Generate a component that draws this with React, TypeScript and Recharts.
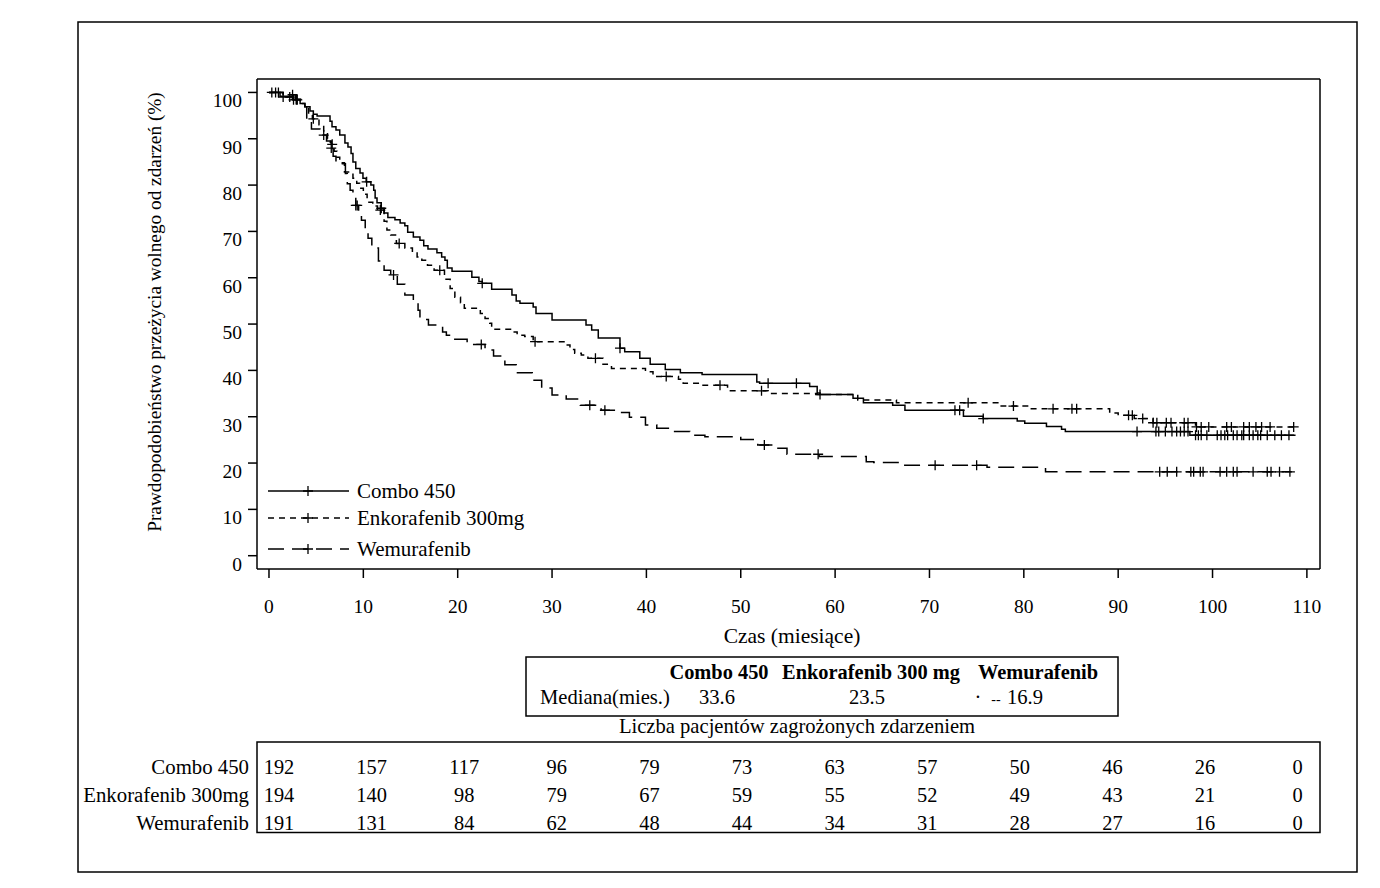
import React from 'react';
import { LineChart, Line, XAxis, YAxis, ReferenceLine } from 'recharts';

// ---- axis setup ----
const MONTH_TICKS = [0, 10, 20, 30, 40, 50, 60, 70, 80, 90, 100, 110];
const PCT_TICKS = [0, 10, 20, 30, 40, 50, 60, 70, 80, 90, 100];
const X_MIN = -1.27;
const X_MAX = 111.39;
const Y_MIN = -2.87;
const Y_MAX = 102.9;

// ---- Kaplan-Meier steps: [month, survival %] ----
const comboSteps: [number, number][] = [
  [0, 100], [1.17, 99.2], [2.54, 98.4], [3.3, 97.6], [3.8, 96.9], [4.35, 96.0], [4.7, 95.3],
  [5.1, 94.9], [6.47, 93.8], [6.68, 92.6], [7.1, 91.9], [7.5, 90.8], [8.05, 89.1], [8.37, 88.2],
  [8.7, 86.8], [8.9, 85.0], [9.2, 83.6], [9.65, 82.6], [9.96, 81.5], [10.3, 80.7], [10.8, 80.0],
  [11.1, 78.9], [11.25, 77.2], [11.45, 76.2], [11.9, 75.0], [12.2, 74.0], [12.6, 73.0],
  [13.35, 72.5], [13.9, 71.8], [14.4, 71.2], [14.7, 69.8], [15.3, 68.8], [16.0, 68.1],
  [16.4, 66.9], [16.85, 66.2], [17.8, 65.4], [18.3, 64.5], [18.65, 63.8], [18.9, 62.1],
  [19.4, 61.4], [21.5, 60.1], [22.25, 59.2], [22.6, 58.8], [23.6, 57.5], [25.75, 56.3],
  [26.2, 55.0], [26.6, 54.5], [28.0, 53.7], [28.3, 52.3], [30.0, 50.9], [33.6, 49.8],
  [34.2, 48.7], [34.9, 47.0], [37.2, 44.8], [37.7, 44.0], [39.3, 42.6], [40.4, 41.3],
  [42.0, 40.2], [43.6, 39.5], [45.9, 39.1], [51.7, 37.5], [52.0, 37.2], [57.3, 36.5],
  [58.1, 35.1], [58.4, 34.8], [61.9, 34.0], [63.0, 33.0], [66.1, 32.5], [67.4, 31.4],
  [73.6, 30.1], [75.7, 29.6], [79.3, 29.1], [80.1, 28.6], [82.4, 27.9], [84.0, 27.3],
  [84.4, 26.8], [97.6, 26.0],
];
const comboCensor = [
  0.3, 0.7, 1.0, 2.6, 3.0, 10.35, 11.9, 22.6, 37.2, 52.9, 55.9, 58.4, 72.7, 73.2, 75.7,
  92.0, 94.0, 94.3, 95.0, 95.7, 96.2, 96.6, 97.0, 97.4, 98.2, 98.5, 98.8, 99.4, 100.5,
  100.9, 101.3, 101.6, 102.2, 102.6, 103.1, 103.3, 103.9, 104.3, 104.8, 105.1, 105.8,
  106.6, 107.3, 108.1,
];
const COMBO_END = 108.8;

const enkoSteps: [number, number][] = [
  [0, 100], [1.5, 99.0], [2.5, 98.5], [3.3, 97.6], [3.8, 96.8], [4.2, 95.3], [4.6, 94.3],
  [5.3, 93.0], [5.8, 91.5], [6.2, 90.0], [6.6, 88.8], [6.9, 87.3], [7.2, 86.0], [7.5, 84.8],
  [8.0, 82.8], [8.9, 81.5], [9.3, 80.4], [9.6, 79.3], [10.0, 78.0], [10.4, 76.3], [11.0, 75.5],
  [11.5, 74.6], [12.2, 72.2], [12.5, 70.3], [12.9, 69.2], [13.5, 67.4], [14.4, 66.4],
  [15.2, 65.5], [15.7, 64.5], [16.2, 63.8], [16.8, 62.7], [17.5, 61.6], [18.6, 59.7],
  [19.2, 57.7], [19.7, 55.8], [20.3, 54.6], [20.7, 53.4], [22.4, 52.3], [22.9, 51.2],
  [23.4, 50.2], [23.6, 48.9], [25.6, 48.3], [26.3, 47.6], [27.1, 47.3], [28.0, 46.2],
  [31.4, 45.5], [31.9, 44.5], [32.4, 43.7], [33.1, 43.3], [33.8, 42.6], [35.4, 41.3],
  [36.3, 40.4], [39.9, 39.7], [40.7, 38.7], [43.4, 38.1], [43.9, 37.2], [46.0, 36.8],
  [48.6, 35.6], [52.9, 35.0], [58.1, 34.8], [62.4, 33.6], [66.5, 33.0], [77.6, 32.3],
  [80.4, 31.7], [89.1, 30.8], [90.0, 30.3], [91.7, 29.6], [93.7, 28.7], [98.2, 27.8],
];
const enkoCensor = [
  1.5, 2.2, 2.9, 4.7, 6.7, 11.8, 13.8, 18.1, 28.2, 34.6, 42.1, 47.8, 52.2, 74.1, 78.9,
  83.1, 85.1, 85.6, 91.1, 91.5, 92.6, 93.7, 94.1, 95.1, 95.6, 97.0, 97.4, 98.3, 98.8,
  99.6, 101.5, 102.0, 103.3, 103.9, 104.6, 105.2, 106.1, 108.6,
];
const ENKO_END = 108.6;

const wemuSteps: [number, number][] = [
  [0, 100], [1.5, 99.5], [2.8, 98.5], [3.3, 97.6], [3.8, 96.9], [4.0, 94.0], [4.5, 92.1],
  [5.4, 90.8], [6.1, 89.5], [6.5, 88.0], [6.8, 86.2], [7.1, 84.6], [8.1, 82.5], [8.3, 80.3],
  [8.6, 78.9], [8.9, 77.8], [9.2, 75.6], [9.5, 74.1], [9.8, 72.4], [10.2, 70.3], [10.5, 68.5],
  [10.9, 66.4], [11.6, 63.6], [12.2, 61.6], [12.9, 60.6], [13.6, 58.6], [14.4, 56.3],
  [15.3, 54.8], [15.8, 53.0], [16.0, 51.0], [16.9, 49.8], [18.4, 48.3], [18.8, 47.6],
  [19.4, 46.7], [21.0, 45.6], [22.9, 44.4], [23.8, 43.1], [25.0, 41.2], [26.2, 39.5],
  [27.9, 37.9], [28.9, 36.2], [30.0, 34.7], [31.5, 33.8], [33.0, 32.5], [35.2, 31.4],
  [36.6, 30.9], [38.2, 29.9], [39.9, 28.2], [41.1, 27.5], [42.9, 26.8], [44.6, 26.0],
  [46.2, 25.7], [50.0, 25.1], [51.8, 23.9], [53.6, 23.2], [54.9, 21.9], [58.3, 21.4],
  [63.3, 20.3], [64.1, 20.1], [67.1, 19.5], [76.1, 19.1], [82.3, 18.1],
];
const wemuCensor = [
  2.5, 2.9, 5.8, 6.6, 9.2, 9.35, 13.2, 22.5, 34.0, 35.6, 52.5, 58.2, 70.6, 75.0,
  94.4, 95.2, 96.2, 97.7, 98.0, 98.7, 99.0, 100.8, 101.5, 102.2, 102.6, 104.3, 105.8,
  106.2, 107.1, 108.2,
];
const WEMU_END = 108.4;

// ---- numbers at risk and medians ----
const RISK_LABELS = ['Combo 450', 'Enkorafenib 300mg', 'Wemurafenib'];
const comboAtRisk = [192, 157, 117, 96, 79, 73, 63, 57, 50, 46, 26, 0];
const enkoAtRisk = [194, 140, 98, 79, 67, 59, 55, 52, 49, 43, 21, 0];
const wemuAtRisk = [191, 131, 84, 62, 48, 44, 34, 31, 28, 27, 16, 0];
const MEDIAN_HEADERS = ['Combo 450', 'Enkorafenib 300 mg', 'Wemurafenib'];
const MEDIAN_VALUES = ['33.6', '23.5', '16.9'];

const FONT = '"Liberation Serif", "Times New Roman", serif';

type Pt = { t: number; s: number; c: boolean };

function stepValue(steps: [number, number][], t: number): number {
  let v = steps[0][1];
  for (const [st, sv] of steps) {
    if (st <= t) v = sv;
    else break;
  }
  return v;
}

function buildSeries(steps: [number, number][], censor: number[], end: number): Pt[] {
  const pts: Pt[] = steps.map(([t, s]) => ({ t, s, c: false }));
  censor.forEach((t) => pts.push({ t, s: stepValue(steps, t), c: true }));
  pts.push({ t: end, s: steps[steps.length - 1][1], c: false });
  return pts.sort((a, b) => a.t - b.t || (a.c === b.c ? 0 : a.c ? 1 : -1));
}

const comboData = buildSeries(comboSteps, comboCensor, COMBO_END);
const enkoData = buildSeries(enkoSteps, enkoCensor, ENKO_END);
const wemuData = buildSeries(wemuSteps, wemuCensor, WEMU_END);

const censorDot = (props: any) => {
  const { cx, cy, payload, index } = props;
  if (!payload || !payload.c || cx == null || cy == null) return <g key={`n${index}`} />;
  return (
    <path
      key={`c${index}`}
      d={`M${cx - 5},${cy}h10M${cx},${cy - 5}v10`}
      stroke="#000"
      strokeWidth={1.3}
      strokeDasharray="none"
      fill="none"
    />
  );
};

const XTick = (props: any) => {
  const { x, y, payload } = props;
  return (
    <text x={x} y={y + 35} textAnchor="middle" fontFamily={FONT} fontSize={19.5} fill="#000">
      {payload.value}
    </text>
  );
};

const YTick = (props: any) => {
  const { x, y, payload } = props;
  return (
    <text x={x - 4} y={y + 15} textAnchor="end" fontFamily={FONT} fontSize={19.5} fill="#000">
      {payload.value}
    </text>
  );
};

const LEGEND = [
  { label: 'Combo 450', dash: undefined as string | undefined, y: 491 },
  { label: 'Enkorafenib 300mg', dash: '6 5', y: 518 },
  { label: 'Wemurafenib', dash: '16 8', y: 549 },
];

const RISK_ROWS = [comboAtRisk, enkoAtRisk, wemuAtRisk];

export default function App() {
  return (
    <div style={{ position: 'absolute', left: 0, top: 0, width: 1380, height: 888, background: '#fff' }}>
      <LineChart
        width={1380}
        height={888}
        margin={{ top: 79, right: 60, bottom: 269, left: 197 }}
      >
        <XAxis
          dataKey="t"
          type="number"
          domain={[X_MIN, X_MAX]}
          ticks={MONTH_TICKS}
          allowDataOverflow
          height={50}
          tickSize={9}
          tickMargin={0}
          axisLine={{ stroke: '#000', strokeWidth: 1.5 }}
          tickLine={{ stroke: '#000', strokeWidth: 1.5 }}
          tick={<XTick />}
        />
        <YAxis
          type="number"
          domain={[Y_MIN, Y_MAX]}
          ticks={PCT_TICKS}
          allowDataOverflow
          width={60}
          tickSize={9}
          tickMargin={2}
          axisLine={{ stroke: '#000', strokeWidth: 1.5 }}
          tickLine={{ stroke: '#000', strokeWidth: 1.5 }}
          tick={<YTick />}
        />
        <ReferenceLine y={Y_MAX} stroke="#000" strokeWidth={1.5} />
        <ReferenceLine x={X_MAX} stroke="#000" strokeWidth={1.5} />
        <Line
          data={comboData}
          dataKey="s"
          type="stepAfter"
          stroke="#000"
          strokeWidth={1.5}
          dot={censorDot}
          activeDot={false}
          isAnimationActive={false}
        />
        <Line
          data={enkoData}
          dataKey="s"
          type="stepAfter"
          stroke="#000"
          strokeWidth={1.5}
          strokeDasharray="6 5"
          dot={censorDot}
          activeDot={false}
          isAnimationActive={false}
        />
        <Line
          data={wemuData}
          dataKey="s"
          type="stepAfter"
          stroke="#000"
          strokeWidth={1.5}
          strokeDasharray="16 8"
          dot={censorDot}
          activeDot={false}
          isAnimationActive={false}
        />
      </LineChart>

      <svg
        width={1380}
        height={888}
        style={{ position: 'absolute', left: 0, top: 0, pointerEvents: 'none' }}
        fontFamily={FONT}
      >
        <rect x={78} y={22} width={1279} height={850} fill="none" stroke="#000" strokeWidth={1.5} />

        <text
          x={0}
          y={0}
          transform="translate(161,312) rotate(-90)"
          textAnchor="middle"
          fontSize={19.3}
        >
          Prawdopodobieństwo przeżycia wolnego od zdarzeń (%)
        </text>

        <text x={792} y={643} textAnchor="middle" fontSize={21.5}>
          Czas (miesiące)
        </text>

        {LEGEND.map((l) => (
          <g key={l.label}>
            <line x1={268} x2={349} y1={l.y} y2={l.y} stroke="#000" strokeWidth={1.5} strokeDasharray={l.dash} />
            <path d={`M303,${l.y}h10M308,${l.y - 5}v10`} stroke="#000" strokeWidth={1.3} />
            <text x={357} y={l.y + 7} fontSize={21}>
              {l.label}
            </text>
          </g>
        ))}

        <rect x={526} y={657} width={592} height={59} fill="none" stroke="#000" strokeWidth={1.5} />
        <text x={719} y={679} textAnchor="middle" fontSize={20.4} fontWeight="bold">{MEDIAN_HEADERS[0]}</text>
        <text x={871} y={679} textAnchor="middle" fontSize={20.4} fontWeight="bold">{MEDIAN_HEADERS[1]}</text>
        <text x={1038} y={679} textAnchor="middle" fontSize={20.4} fontWeight="bold">{MEDIAN_HEADERS[2]}</text>
        <text x={540} y={704} fontSize={20.6}>Mediana(mies.)</text>
        <text x={717} y={704} textAnchor="middle" fontSize={20.6}>{MEDIAN_VALUES[0]}</text>
        <text x={867} y={704} textAnchor="middle" fontSize={20.6}>{MEDIAN_VALUES[1]}</text>
        <text x={978} y={704} textAnchor="middle" fontSize={20.6}>·</text>
        <text x={996} y={704} textAnchor="middle" fontSize={14}>--</text>
        <text x={1025} y={704} textAnchor="middle" fontSize={20.6}>{MEDIAN_VALUES[2]}</text>

        <text x={797} y={733} textAnchor="middle" fontSize={20.6}>
          Liczba pacjentów zagrożonych zdarzeniem
        </text>

        <rect x={257} y={742} width={1063} height={90.5} fill="none" stroke="#000" strokeWidth={1.5} />
        {RISK_LABELS.map((lab, r) => (
          <g key={lab}>
            <text x={249} y={774 + r * 28} textAnchor="end" fontSize={20.8}>
              {lab}
            </text>
            {RISK_ROWS[r].map((v, i) => (
              <text key={i} x={279 + i * 92.6} y={774 + r * 28} textAnchor="middle" fontSize={20.4}>
                {v}
              </text>
            ))}
          </g>
        ))}
      </svg>
    </div>
  );
}
